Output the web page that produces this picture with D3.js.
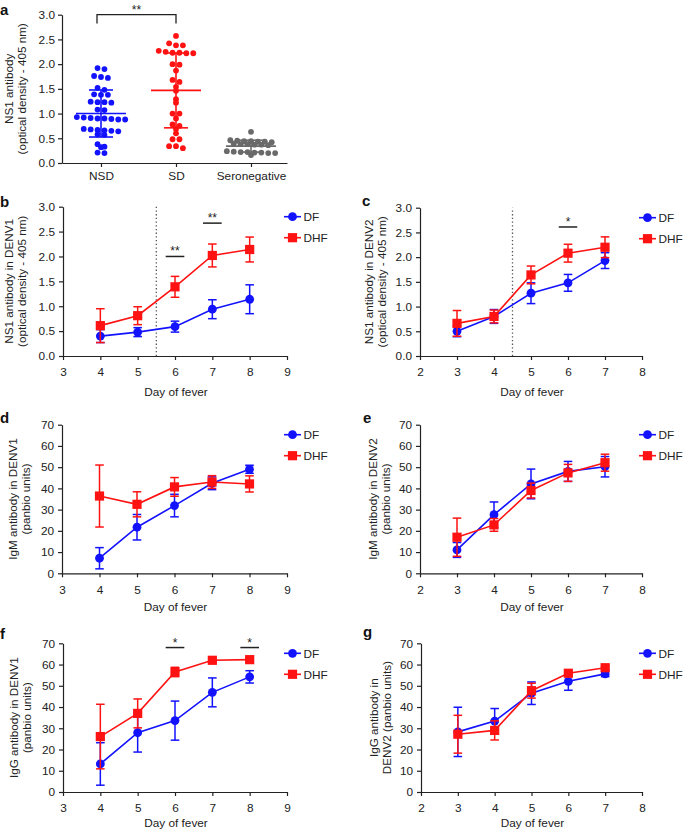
<!DOCTYPE html>
<html>
<head>
<meta charset="utf-8">
<script src="https://cdnjs.cloudflare.com/ajax/libs/d3/7.8.5/d3.min.js"></script>
<style>
body { margin: 0; background: #fff; }
svg { display: block; font-family: "Liberation Sans", Arial, Helvetica, sans-serif; }
.axis path, .axis line { stroke: #222; stroke-width: 1.2; }
.axis text { fill: #222; font-size: 11.8px; font-family: "Liberation Sans", Arial, sans-serif; }
</style>
</head>
<body>
<svg id="fig" width="685" height="831"></svg>
<script>
// ---- panel a : scatter ----
var aCats = ['NSD', 'SD', 'Seronegative'];
var aNSD = [1.92, 1.90, 1.76, 1.74, 1.72, 1.52, 1.48, 1.39, 1.38, 1.38, 1.24, 1.23, 1.23, 1.22,
            1.08, 1.07, 0.93, 0.92, 0.91, 0.90, 0.90, 0.89, 0.88, 0.88, 0.69, 0.68, 0.67, 0.66,
            0.65, 0.64, 0.58, 0.57, 0.38, 0.33, 0.32, 0.21, 0.20];
var aSD = [2.57, 2.42, 2.38, 2.38, 2.27, 2.25, 2.23, 2.23, 2.22, 2.22, 2.00, 1.99, 1.87, 1.68,
           1.64, 1.54, 1.46, 1.29, 1.22, 1.00, 1.00, 0.90, 0.78, 0.75, 0.69, 0.60, 0.48, 0.48,
           0.34, 0.34, 0.30];
var aSero = [0.63, 0.46, 0.45, 0.44, 0.44, 0.43, 0.43, 0.42, 0.39, 0.38, 0.38, 0.37, 0.37, 0.36,
             0.24, 0.23, 0.22, 0.22, 0.21, 0.21, 0.20, 0.20, 0.16];
var aTicks = [0, 0.5, 1.0, 1.5, 2.0, 2.5, 3.0];

// ---- line panels ----
var days48 = [4, 5, 6, 7, 8];
var days37 = [3, 4, 5, 6, 7];
var odTicks = [0, 0.5, 1.0, 1.5, 2.0, 2.5, 3.0];
var panbioTicks = [0, 10, 20, 30, 40, 50, 60, 70];

var bDF = [0.40, 0.48, 0.59, 0.94, 1.14],  bDFerr = [0.13, 0.09, 0.11, 0.19, 0.29];
var bDHF = [0.61, 0.81, 1.39, 2.02, 2.14], bDHFerr = [0.34, 0.18, 0.21, 0.23, 0.25];
var cDF = [0.50, 0.80, 1.27, 1.48, 1.93],  cDFerr = [0.11, 0.14, 0.21, 0.17, 0.16];
var cDHF = [0.66, 0.80, 1.64, 2.08, 2.20], cDHFerr = [0.26, 0.13, 0.18, 0.18, 0.21];
var dDF = [7.1, 21.7, 31.9, 42.4, 49.0],   dDFerr = [5.0, 6.0, 5.3, 3.0, 1.9];
var dDHF = [36.4, 32.5, 40.7, 43.0, 42.1], dDHFerr = [14.6, 5.9, 4.4, 3.0, 3.8];
var eDF = [11.0, 27.6, 42.1, 48.0, 50.2],  eDFerr = [3.5, 6.0, 7.0, 4.7, 4.8];
var eDHF = [17.0, 22.8, 39.0, 47.3, 52.1], eDHFerr = [9.0, 3.0, 3.5, 4.0, 4.0];
var fDF = [13.2, 27.9, 33.6, 46.9, 54.2],  fDFerr = [10.0, 9.1, 9.2, 6.8, 2.9];
var fDHF = [26.1, 37.0, 56.5, 62.0, 62.3], fDHFerr = [15.2, 6.8, 2.2, 0.6, 0.6];
var gDF = [28.3, 33.4, 46.5, 52.1, 55.6],  gDFerr = [11.6, 5.9, 5.3, 4.2, 1.3];
var gDHF = [27.2, 29.0, 47.7, 55.9, 58.5], gDHFerr = [8.9, 4.5, 3.5, 1.0, 0.8];

// significance marks: day and level
var bSig = [[6, 2.0, '**'], [7, 2.67, '**']];
var cSig = [[6, 2.61, '*']];
var fSig = [[6, 68, '*'], [8, 68, '*']];

var BLUE = '#1212ff', RED = '#ff1212', GREY = '#6a6a6a';
var svg = d3.select('#fig');
svg.append('rect').attr('width', 685).attr('height', 831).attr('fill', '#fff');

function letter(t, x, y) {
  svg.append('text').attr('x', x).attr('y', y).attr('font-size', 15).attr('font-weight', 'bold')
    .attr('fill', '#111').text(t);
}

function yTitle(g, lines, x0, x1, cy) {
  lines.forEach(function(s, i) {
    g.append('text').attr('transform', 'translate(' + (i ? x1 : x0) + ',' + cy + ') rotate(-90)')
      .attr('text-anchor', 'middle').attr('font-size', 11.7).attr('fill', '#222').text(s);
  });
}

// simple GraphPad-like swarm: rows of close values spread side by side
function swarm(vals, cx, y, step) {
  var sorted = vals.slice().sort(d3.descending), rows = [], cur = null;
  sorted.forEach(function(v) {
    if (!cur || cur[0] - v > 0.055) { cur = []; rows.push(cur); }
    cur.push(v);
  });
  var out = [];
  rows.forEach(function(r) {
    r.forEach(function(v, i) { out.push({ x: cx + (i - (r.length - 1) / 2) * step, y: y(v) }); });
  });
  return out;
}

// ---------- panel a ----------
(function() {
  var g = svg.append('g');
  var x = d3.scalePoint().domain(aCats).range([62, 287]).padding(0.5).align(0.52);
  var y = d3.scaleLinear().domain([0, 3]).range([163, 14.7]);
  g.append('g').attr('class', 'axis').attr('transform', 'translate(62,0)')
    .call(d3.axisLeft(y).tickValues(aTicks).tickFormat(d3.format('.1f')).tickSize(4).tickPadding(3).tickSizeOuter(0));
  g.append('g').attr('class', 'axis').attr('transform', 'translate(0,163)')
    .call(d3.axisBottom(x).tickSize(4).tickPadding(5).tickSizeOuter(0));
  yTitle(g, ['NS1 antibody', '(optical density - 405 nm)'], 13, 26, y(1.5));

  var groups = [[aNSD, BLUE], [aSD, RED], [aSero, GREY]];
  groups.forEach(function(gr, i) {
    var cx = x(aCats[i]);
    g.append('g').selectAll('circle').data(swarm(gr[0], cx, y, 6.9)).enter().append('circle')
      .attr('cx', function(d) { return d.x; }).attr('cy', function(d) { return d.y; })
      .attr('r', 2.9).attr('fill', gr[1]);
    var m = d3.mean(gr[0]), s = d3.deviation(gr[0]);
    var st = g.append('g').attr('stroke', gr[1]).attr('stroke-width', 1.6);
    st.append('line').attr('x1', cx - 25).attr('x2', cx + 25).attr('y1', y(m)).attr('y2', y(m));
    st.append('line').attr('x1', cx).attr('x2', cx).attr('y1', y(m - s)).attr('y2', y(m + s));
    [m - s, m + s].forEach(function(v) {
      st.append('line').attr('x1', cx - 12).attr('x2', cx + 12).attr('y1', y(v)).attr('y2', y(v));
    });
  });
  // bracket NSD vs SD
  var x0 = x(aCats[0]) - 4, x1 = x(aCats[1]);
  g.append('path').attr('d', 'M' + x0 + ',' + y(2.82) + 'V' + y(3.0) + 'H' + x1 + 'V' + y(2.82))
    .attr('fill', 'none').attr('stroke', '#222').attr('stroke-width', 1.3);
  g.append('text').attr('x', (x0 + x1) / 2).attr('y', y(3.0) - 1).attr('text-anchor', 'middle')
    .attr('font-size', 12).attr('fill', '#222').text('**');
  letter('a', 0, 14.5);
})();

// ---------- line panels ----------
function linePanel(p) {
  var g = svg.append('g');
  var x = d3.scaleLinear().domain(p.xDom).range([p.left, p.right]);
  var y = d3.scaleLinear().domain([0, p.yMax]).range([p.bottom, p.top]);
  var xt = d3.range(p.xDom[0], p.xDom[1] + 1);
  g.append('g').attr('class', 'axis').attr('transform', 'translate(' + p.left + ',0)')
    .call(d3.axisLeft(y).tickValues(p.yTicks).tickFormat(p.yFmt).tickSize(4).tickPadding(4).tickSizeOuter(0));
  g.append('g').attr('class', 'axis').attr('transform', 'translate(0,' + p.bottom + ')')
    .call(d3.axisBottom(x).tickValues(xt).tickFormat(d3.format('d')).tickSize(4).tickPadding(8).tickSizeOuter(0));
  yTitle(g, p.title, p.left - p.tOff[0], p.left - p.tOff[1], (p.top + p.bottom) / 2);
  g.append('text').attr('x', (p.left + p.right) / 2 + 1).attr('y', p.bottom + p.xtOff)
    .attr('text-anchor', 'middle').attr('font-size', 11.8).attr('fill', '#222').text('Day of fever');

  if (p.cut != null) {
    g.append('line').attr('x1', x(p.cut)).attr('x2', x(p.cut)).attr('y1', y(0)).attr('y2', y(p.yMax))
      .attr('stroke', '#555').attr('stroke-width', 1.3).attr('stroke-dasharray', '1.3,2.4');
  }
  (p.sig || []).forEach(function(s) {
    g.append('line').attr('x1', x(s[0] - 0.25)).attr('x2', x(s[0] + 0.25)).attr('y1', y(s[1])).attr('y2', y(s[1]))
      .attr('stroke', '#222').attr('stroke-width', 1.5);
    g.append('text').attr('x', x(s[0])).attr('y', y(s[1]) - 1).attr('text-anchor', 'middle')
      .attr('font-size', 12).attr('fill', '#222').text(s[2]);
  });

  var series = [
    { name: 'DF', v: p.df, e: p.dfErr, c: BLUE, sq: false },
    { name: 'DHF', v: p.dhf, e: p.dhfErr, c: RED, sq: true }
  ];
  function marker(sel, s, cx, cy) {
    if (s.sq) {
      sel.append('rect').attr('x', cx - 4.6).attr('y', cy - 4.6).attr('width', 9.2).attr('height', 9.2).attr('fill', s.c);
    } else {
      sel.append('circle').attr('cx', cx).attr('cy', cy).attr('r', 4.4).attr('fill', s.c);
    }
  }
  series.forEach(function(s) {
    var pts = p.days.map(function(d, i) { return { d: d, v: s.v[i], e: s.e[i] }; });
    var eb = g.append('g').attr('stroke', s.c).attr('stroke-width', 1.5);
    pts.forEach(function(q) {
      var cx = x(q.d);
      eb.append('line').attr('x1', cx).attr('x2', cx).attr('y1', y(q.v - q.e)).attr('y2', y(q.v + q.e));
      [q.v - q.e, q.v + q.e].forEach(function(v) {
        eb.append('line').attr('x1', cx - 4.3).attr('x2', cx + 4.3).attr('y1', y(v)).attr('y2', y(v));
      });
    });
    g.append('path').datum(pts)
      .attr('d', d3.line().x(function(q) { return x(q.d); }).y(function(q) { return y(q.v); }))
      .attr('fill', 'none').attr('stroke', s.c).attr('stroke-width', 1.6);
    var mk = g.append('g');
    pts.forEach(function(q) { marker(mk, s, x(q.d), y(q.v)); });
  });

  // legend
  var lx = p.right - 3;
  series.forEach(function(s, i) {
    var ly = p.top + 10 + i * 21;
    g.append('line').attr('x1', lx).attr('x2', lx + 17).attr('y1', ly).attr('y2', ly)
      .attr('stroke', s.c).attr('stroke-width', 1.6);
    marker(g, s, lx + 8.5, ly);
    g.append('text').attr('x', lx + 19.5).attr('y', ly).attr('dy', '0.36em')
      .attr('font-size', 11.8).attr('fill', '#222').text(s.name);
  });
  letter(p.letter, p.lx, p.ly);
}

var fmt1 = d3.format('.1f'), fmt0 = d3.format('d');

linePanel({ letter: 'b', lx: 0, ly: 207, left: 63, right: 287, top: 206.7, bottom: 356,
  xDom: [3, 9], yMax: 3, yTicks: odTicks, yFmt: fmt1, days: days48,
  df: bDF, dfErr: bDFerr, dhf: bDHF, dhfErr: bDHFerr, cut: 5.5, sig: bSig,
  title: ['NS1 antibody in DENV1', '(optical density - 405 nm)'], tOff: [50, 37], xtOff: 40 });

linePanel({ letter: 'c', lx: 362, ly: 206, left: 420, right: 642, top: 207.7, bottom: 356,
  xDom: [2, 8], yMax: 3, yTicks: odTicks, yFmt: fmt1, days: days37,
  df: cDF, dfErr: cDFerr, dhf: cDHF, dhfErr: cDHFerr, cut: 4.5, sig: cSig,
  title: ['NS1 antibody in DENV2', '(optical density - 405 nm)'], tOff: [47, 34], xtOff: 40 });

linePanel({ letter: 'd', lx: 0, ly: 423, left: 62, right: 287, top: 424.7, bottom: 573.3,
  xDom: [3, 9], yMax: 70, yTicks: panbioTicks, yFmt: fmt0, days: days48,
  df: dDF, dfErr: dDFerr, dhf: dDHF, dhfErr: dDHFerr, cut: null, sig: [],
  title: ['IgM antibody in DENV1', '(panbio units)'], tOff: [45, 32], xtOff: 38 });

linePanel({ letter: 'e', lx: 363, ly: 423, left: 420, right: 642, top: 424.7, bottom: 573.3,
  xDom: [2, 8], yMax: 70, yTicks: panbioTicks, yFmt: fmt0, days: days37,
  df: eDF, dfErr: eDFerr, dhf: eDHF, dhfErr: eDHFerr, cut: null, sig: [],
  title: ['IgM antibody in DENV2', '(panbio units)'], tOff: [43, 30], xtOff: 38 });

linePanel({ letter: 'f', lx: 0, ly: 639, left: 63, right: 287, top: 643.3, bottom: 792,
  xDom: [3, 9], yMax: 70, yTicks: panbioTicks, yFmt: fmt0, days: days48,
  df: fDF, dfErr: fDFerr, dhf: fDHF, dhfErr: fDHFerr, cut: null, sig: fSig,
  title: ['IgG antibody in DENV1', '(panbio units)'], tOff: [45, 32], xtOff: 35 });

linePanel({ letter: 'g', lx: 363, ly: 637, left: 421, right: 642, top: 643.3, bottom: 792,
  xDom: [2, 8], yMax: 70, yTicks: panbioTicks, yFmt: fmt0, days: days37,
  df: gDF, dfErr: gDFerr, dhf: gDHF, dhfErr: gDHFerr, cut: null, sig: [],
  title: ['IgG antibody in', 'DENV2 (panbio units)'], tOff: [43, 30], xtOff: 35 });
</script>
</body>
</html>
